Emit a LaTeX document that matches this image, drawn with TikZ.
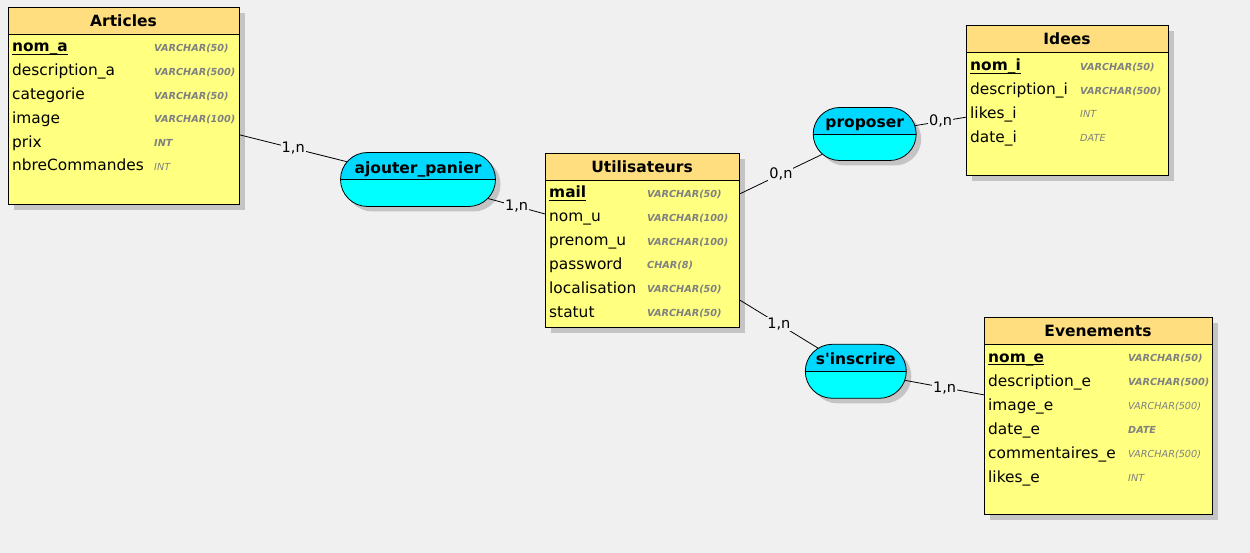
\documentclass[tikz,border=0pt]{standalone}
\usepackage{fontspec}
\setmainfont{DejaVu Sans}
\usetikzlibrary{positioning}
\usetikzlibrary{shapes.misc}
\definecolor{bgcol}{HTML}{F0F0F0}
\definecolor{enthead}{HTML}{FFDE80}
\definecolor{entbody}{HTML}{FFFF80}
\definecolor{assoctop}{HTML}{00D8FF}
\definecolor{assocbot}{HTML}{00FFFF}
\definecolor{shadowcol}{HTML}{C4C4C4}
\definecolor{typecol}{HTML}{808080}
\tikzset{
    entity/.style={draw=black, fill=entbody, rectangle, anchor=north west,
        inner sep=0pt, line width=0.8pt,
        path picture={\fill[enthead] (path picture bounding box.north west)
            rectangle ([yshift=-27pt]path picture bounding box.north east);
            \draw[line width=0.8pt] ([yshift=-27pt]path picture bounding box.north west)
            -- ([yshift=-27pt]path picture bounding box.north east);}},
    entityshadow/.style={fill=shadowcol, rectangle, anchor=north west, inner sep=0pt},
    entitytitle/.style={font=\fontsize{15.5}{18}\selectfont\bfseries, inner sep=0pt},
    attr/.style={anchor=west, inner sep=0pt, text height=12pt, text depth=2pt,
        font=\fontsize{15.4}{18}\selectfont},
    typeb/.style={anchor=west, inner sep=0pt, text height=9.5pt, text depth=0.5pt,
        text=typecol, font=\fontsize{9.7}{12}\selectfont\bfseries\itshape},
    typen/.style={anchor=west, inner sep=0pt, text height=9.5pt, text depth=0.5pt,
        text=typecol, font=\fontsize{9.7}{12}\selectfont\itshape},
    assoc/.style={draw=black, rounded rectangle, fill=assocbot, inner sep=0pt,
        line width=0.8pt,
        path picture={\fill[assoctop] (path picture bounding box.north west)
            rectangle (path picture bounding box.east);
            \draw[line width=0.8pt] (path picture bounding box.west)
            -- (path picture bounding box.east);}},
    assocshadow/.style={fill=shadowcol, rounded rectangle, inner sep=0pt},
    assoctitle/.style={font=\fontsize{15.5}{18}\selectfont\bfseries, inner sep=0pt,
        text height=12pt, text depth=4pt},
    card/.style={fill=bgcol, inner sep=1pt, font=\fontsize{14.5}{17}\selectfont},
    link/.style={draw=black, line width=0.8pt},
}
\newsavebox{\keybox}
\newcommand{\keyattr}[1]{\sbox{\keybox}{\textbf{#1}}%
    \rlap{\usebox{\keybox}}\rule[-3.2pt]{\wd\keybox}{1.5pt}}

\begin{document}
\begin{tikzpicture}[x=1pt, y=-1pt]
\fill[bgcol] (0,0) rectangle (1250,553);
\useasboundingbox (0,0) rectangle (1250,553);
% shadows
\node[entityshadow, minimum width=231pt, minimum height=197pt] at (14,13) {};
\node[entityshadow, minimum width=194pt, minimum height=174pt] at (551,159) {};
\node[entityshadow, minimum width=202pt, minimum height=150pt] at (972,31) {};
\node[entityshadow, minimum width=228pt, minimum height=197pt] at (990,323) {};
\node[assocshadow, minimum width=155pt, minimum height=54pt] at (423,184.5) {};
\node[assocshadow, minimum width=103pt, minimum height=53pt] at (869.7,139) {};
\node[assocshadow, minimum width=101pt, minimum height=54pt] at (860.8,376.3) {};

% Articles
\node[entity, minimum width=231pt, minimum height=197pt] (art) at (8,7) {};
\node[entitytitle] at (123.5,20.5) {Articles};
\node[attr] at (12,47) {\keyattr{nom\_a}};
\node[typeb] at (154,47) {VARCHAR(50)};
\foreach \n/\t/\s [count=\i] in {description\_a/VARCHAR(500)/typeb,
    categorie/VARCHAR(50)/typeb, image/VARCHAR(100)/typeb,
    prix/INT/typeb, nbreCommandes/INT/typen}
{
    \node[attr] at (12,47+23.8*\i) {\n};
    \node[\s] at (154,47+23.8*\i) {\t};
}

% Utilisateurs
\node[entity, minimum width=194pt, minimum height=174pt] (usr) at (545,153) {};
\node[entitytitle] at (642,166.5) {Utilisateurs};
\node[attr] at (549,193) {\keyattr{mail}};
\node[typeb] at (647,193) {VARCHAR(50)};
\foreach \n/\t/\s [count=\i] in {nom\_u/VARCHAR(100)/typeb,
    prenom\_u/VARCHAR(100)/typeb, password/CHAR(8)/typeb,
    localisation/VARCHAR(50)/typeb, statut/VARCHAR(50)/typeb}
{
    \node[attr] at (549,193+23.8*\i) {\n};
    \node[\s] at (647,193+23.8*\i) {\t};
}

% Idees
\node[entity, minimum width=202pt, minimum height=150pt] (ide) at (966,25) {};
\node[entitytitle] at (1067,38.5) {Idees};
\node[attr] at (970,66) {\keyattr{nom\_i}};
\node[typeb] at (1080,66) {VARCHAR(50)};
\foreach \n/\t/\s [count=\i] in {description\_i/VARCHAR(500)/typeb,
    likes\_i/INT/typen, date\_i/DATE/typen}
{
    \node[attr] at (970,66+23.7*\i) {\n};
    \node[\s] at (1080,66+23.7*\i) {\t};
}

% Evenements
\node[entity, minimum width=228pt, minimum height=197pt] (eve) at (984,317) {};
\node[entitytitle] at (1098,330.5) {Evenements};
\node[attr] at (988,357) {\keyattr{nom\_e}};
\node[typeb] at (1128,357) {VARCHAR(50)};
\foreach \n/\t/\s [count=\i] in {description\_e/VARCHAR(500)/typeb,
    image\_e/VARCHAR(500)/typen, date\_e/DATE/typeb,
    commentaires\_e/VARCHAR(500)/typen, likes\_e/INT/typen}
{
    \node[attr] at (988,357+24*\i) {\n};
    \node[\s] at (1128,357+24*\i) {\t};
}

% associations
\node[assoc, minimum width=155pt, minimum height=54pt] (pan) at (418,179.5) {};
\node[assoctitle] at (418,169.3) {ajouter\_panier};
\node[assoc, minimum width=103pt, minimum height=53pt] (pro) at (864.7,134) {};
\node[assoctitle] at (864.7,123.3) {proposer};
\node[assoc, minimum width=101pt, minimum height=54pt] (ins) at (855.8,371.3) {};
\node[assoctitle] at (855.8,360) {s\textquotesingle inscrire};

% links
\draw[link] (art) -- node[card] {1,n} (pan);
\draw[link] (pan) -- node[card] {1,n} (usr);
\draw[link] (usr) -- node[card] {0,n} (pro);
\draw[link] (pro) -- node[card] {0,n} (ide);
\draw[link] (usr) -- node[card] {1,n} (ins);
\draw[link] (ins) -- node[card] {1,n} (eve);
\end{tikzpicture}
\end{document}
